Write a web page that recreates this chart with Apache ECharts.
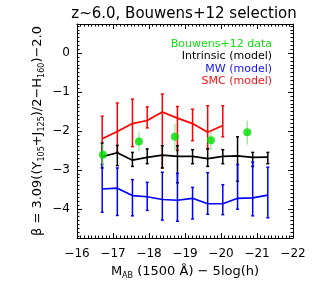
<!DOCTYPE html>
<html><head><meta charset="utf-8">
<script src="https://cdn.jsdelivr.net/npm/echarts@6/dist/echarts.min.js"></script>
<style>html,body{margin:0;padding:0;background:#fff}#c{width:316px;height:288px}</style>
</head><body><div id="c"></div>
<script>
// ---- data ----
const mags = [-16.70,-17.12,-17.54,-17.95,-18.37,-18.79,-19.21,-19.63,-20.05,-20.46,-20.88,-21.30];
const intrinsic   = [-2.66,-2.56,-2.75,-2.68,-2.62,-2.65,-2.65,-2.71,-2.65,-2.64,-2.68,-2.67];
const intrinsicHi = [-2.31,-2.37,-2.55,-2.46,-2.38,-2.38,-2.48,-2.46,-2.48,-2.15,-2.55,-2.55];
const intrinsicLo = [-2.95,-2.89,-2.91,-2.84,-2.95,-3.33,-2.84,-2.91,-2.84,-3.29,-2.91,-2.84];
const smcMags = [-16.70,-17.12,-17.54,-17.95,-18.37,-18.79,-19.21,-19.63,-20.05];
const smc   = [-2.20,-2.01,-1.81,-1.73,-1.51,-1.67,-1.81,-2.03,-1.86];
const smcHi = [-1.62,-1.28,-1.18,-1.38,-1.05,-1.37,-1.44,-1.35,-1.35];
const smcLo = [-2.67,-2.55,-2.40,-1.92,-2.95,-2.50,-2.25,-2.45,-2.15];
const mw   = [-3.49,-3.47,-3.66,-3.69,-3.76,-3.78,-3.73,-3.87,-3.87,-3.73,-3.72,-3.65];
const mwHi = [-2.86,-2.95,-3.25,-3.32,-3.06,-3.09,-3.45,-3.07,-3.38,-2.86,-2.80,-2.93];
const mwLo = [-4.09,-4.17,-4.18,-4.04,-4.29,-4.32,-4.26,-4.14,-4.15,-4.01,-4.18,-4.23];
const obsMags = [-16.72,-17.72,-18.72,-19.72,-20.73];
const obs   = [-2.61,-2.27,-2.15,-2.24,-2.03];
const obsHi = [-2.33,-2.03,-1.81,-2.01,-1.73];
const obsLo = [-2.90,-2.52,-2.50,-2.50,-2.35];
const yTicks = [-4,-3,-2,-1,0];
const yMinorTicks = [-4.7,-4.6,-4.5,-4.4,-4.3,-4.2,-4.1,-3.9,-3.8,-3.7,-3.6,-3.5,-3.4,-3.3,-3.2,-3.1,-2.9,-2.8,-2.7,-2.6,-2.5,-2.4,-2.3,-2.2,-2.1,-1.9,-1.8,-1.7,-1.6,-1.5,-1.4,-1.3,-1.2,-1.1,-0.9,-0.8,-0.7,-0.6,-0.5,-0.4,-0.3,-0.2,-0.1,0.1,0.2,0.3,0.4,0.5,0.6,0.7];
const legendItems = ['Bouwens+12 data','Intrinsic (model)','MW (model)','SMC (model)'];
const titleText = 'z~6.0, Bouwens+12 selection';

const FONT = 'DejaVu Sans';
const chart = echarts.init(document.getElementById('c'), null, {renderer:'canvas'});

function zip(xs, ys){ return xs.map((x,i)=>[x, ys[i]]); }
function bars(xs, lo, hi){ return xs.map((x,i)=>[x, lo[i], hi[i]]); }
function errSeries(data, color, w, cap){
  return {
    type:'custom', xAxisIndex:0, yAxisIndex:0, silent:true, z: 2,
    data: data,
    renderItem: function(params, api){
      const x = api.value(0);
      const p1 = api.coord([x, api.value(1)]);
      const p2 = api.coord([x, api.value(2)]);
      const st = {stroke:color, lineWidth:w};
      return {type:'group', children:[
        {type:'line', shape:{x1:p1[0],y1:p1[1],x2:p2[0],y2:p2[1]}, style:st},
        {type:'line', shape:{x1:p1[0]-cap,y1:p1[1],x2:p1[0]+cap,y2:p1[1]}, style:st},
        {type:'line', shape:{x1:p2[0]-cap,y1:p2[1],x2:p2[0]+cap,y2:p2[1]}, style:st}
      ]};
    }
  };
}
function lineSeries(xs, ys, color){
  return {type:'line', xAxisIndex:0, yAxisIndex:0, data: zip(xs, ys), showSymbol:false, symbol:'none',
    lineStyle:{color:color, width:1.7}, z:3, silent:true, animation:false};
}

const axisLineStyle = {show:true, onZero:false, lineStyle:{color:'#000', width:1}};
const commonY = {type:'value', min:-4.75, max:0.75, splitLine:{show:false}, axisLine:axisLineStyle};
const commonX = {type:'value', min:-22, max:-16, interval:1, inverse:true, splitLine:{show:false}, axisLine:axisLineStyle};

const subRich = {
  n:{fontFamily:FONT, fontSize:13, color:'#000', lineHeight:16, verticalAlign:'bottom'},
  s:{fontFamily:FONT, fontSize:8, color:'#000', lineHeight:8, verticalAlign:'bottom', padding:[0,0,-2,0]}
};

chart.setOption({
  animation:false,
  textStyle:{fontFamily:FONT},
  grid:{left:77, right:23, top:24, bottom:50, containLabel:false},
  xAxis:[
    Object.assign({}, commonX, {position:'bottom',
      axisTick:{show:true, inside:true, length:5, lineStyle:{color:'#000'}},
      minorTick:{show:true, splitNumber:10, length:2.5, lineStyle:{color:'#000'}},
      axisLabel:{show:true, margin:10, color:'#000', fontSize:12, fontFamily:FONT,
        formatter: v => (v<0 ? '\u2212' + Math.abs(v) : String(v))},
      name:'{n|M}{s|AB}{n| (1500 \u00c5) \u2212 5log(h)}', nameLocation:'middle', nameGap:24,
      nameTextStyle:{rich:subRich}
    }),
    Object.assign({}, commonX, {position:'top',
      axisTick:{show:true, inside:true, length:5, lineStyle:{color:'#000'}},
      minorTick:{show:true, splitNumber:10, length:2.5, lineStyle:{color:'#000'}},
      axisLabel:{show:false}
    })
  ],
  yAxis:[
    Object.assign({}, commonY, {position:'left',
      axisTick:{show:true, inside:true, length:5, customValues:yTicks, lineStyle:{color:'#000'}},
      axisLabel:{show:true, margin:7, color:'#000', fontSize:12, fontFamily:FONT, customValues:yTicks,
        formatter: v => (v<0 ? '\u2212' + Math.abs(Math.round(v)) : String(Math.round(v)))},
      name:'{n|\u03b2 = 3.09((Y}{s|105}{n|+J}{s|125}{n|)/2\u2212H}{s|160}{n|)\u22122.0}',
      nameLocation:'middle', nameRotate:90, nameGap:33, nameMoveOverlap:false,
      nameTextStyle:{rich:subRich}
    }),
    Object.assign({}, commonY, {position:'right',
      axisTick:{show:true, inside:true, length:5, customValues:yTicks, lineStyle:{color:'#000'}},
      axisLabel:{show:false}
    }),
    Object.assign({}, commonY, {position:'left', axisLine:{show:false, onZero:false},
      axisTick:{show:true, inside:true, length:2.5, customValues:yMinorTicks, lineStyle:{color:'#000'}},
      axisLabel:{show:false}
    }),
    Object.assign({}, commonY, {position:'right', axisLine:{show:false, onZero:false},
      axisTick:{show:true, inside:true, length:2.5, customValues:yMinorTicks, lineStyle:{color:'#000'}},
      axisLabel:{show:false}
    })
  ],
  graphic:[
    {type:'text', x:184, y:14, style:{text:titleText, fill:'#000', font:'15px "DejaVu Sans"', align:'center', verticalAlign:'middle'}},
    {type:'text', x:272, y:44.5, style:{text:legendItems[0], fill:'#11dd11', font:'11px "DejaVu Sans"', align:'right', verticalAlign:'middle'}},
    {type:'text', x:272, y:56.5, style:{text:legendItems[1], fill:'#000', font:'11px "DejaVu Sans"', align:'right', verticalAlign:'middle'}},
    {type:'text', x:272, y:68.8, style:{text:legendItems[2], fill:'#1111ff', font:'11px "DejaVu Sans"', align:'right', verticalAlign:'middle'}},
    {type:'text', x:272, y:81, style:{text:legendItems[3], fill:'#ff1111', font:'11px "DejaVu Sans"', align:'right', verticalAlign:'middle'}}
  ],
  series:[
    errSeries(bars(smcMags, smcLo, smcHi), '#ff0000', 1.5, 1.5),
    lineSeries(smcMags, smc, '#ff0000'),
    errSeries(bars(mags, intrinsicLo, intrinsicHi), '#000000', 1.5, 1.5),
    lineSeries(mags, intrinsic, '#000000'),
    errSeries(bars(mags, mwLo, mwHi), '#0000ff', 1.5, 1.5),
    lineSeries(mags, mw, '#0000ff'),
    Object.assign(errSeries(bars(obsMags, obsLo, obsHi), '#88ee88', 1.2, 0), {z:4}),
    {type:'scatter', xAxisIndex:0, yAxisIndex:0, data: zip(obsMags, obs), symbol:'circle', symbolSize:8,
      itemStyle:{color:'#00dd00'}, z:5, silent:true}
  ]
});
</script></body></html>
